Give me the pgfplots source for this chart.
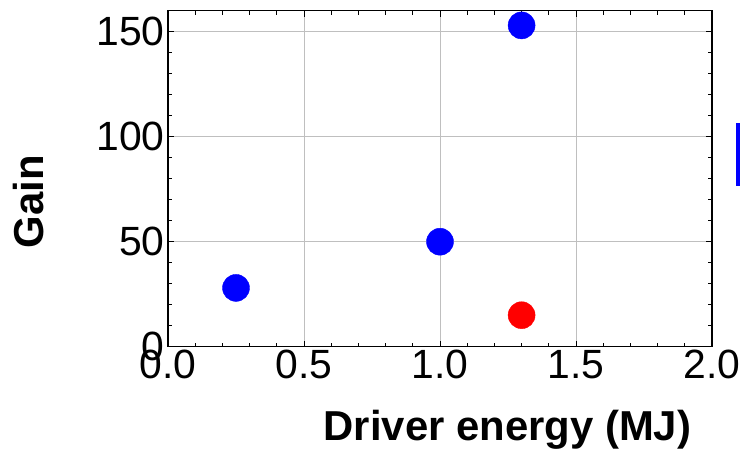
\documentclass[border=0pt]{standalone}
\usepackage{pgfplots}
\pgfplotsset{compat=1.18}
\usetikzlibrary{calc}
\usepackage{fontspec}
\setmainfont{Liberation Sans}
\begin{document}
\begin{tikzpicture}
\begin{axis}[
  name=ax,
  scale only axis, width=544bp, height=336bp,
  xmin=0, xmax=2, ymin=0, ymax=160,
  xtick={0,0.5,1,1.5,2}, ytick={0,50,100,150},
  minor x tick num=4, minor y tick num=4,
  xticklabel style={/pgf/number format/.cd, fixed, fixed zerofill, precision=1},
  /pgf/number format/assume math mode=true,
  ticklabel style={font=\fontsize{41}{41}\selectfont},
  grid=major, major grid style={gray!50, line width=1pt},
  axis line style={line width=1.3pt},
  tick style={black, line width=1pt},
  major tick length=6bp, minor tick length=4bp,
  tick align=inside,
  xlabel={Driver energy (MJ)}, ylabel={Gain},
  label style={font=\fontsize{42}{42}\selectfont\bfseries},
  xlabel style={at={(ticklabel cs:0.624)}},
  ylabel style={at={(ticklabel cs:0.432)}},
  xlabel shift=24bp, ylabel shift=46bp,
]
\addplot[only marks, mark=*, mark size=13.5bp, blue] coordinates {(0.25,28)(1.0,50)(1.3,153)};
\addplot[only marks, mark=*, mark size=13.5bp, red] coordinates {(1.3,15)};
\end{axis}
\draw[blue, line width=4bp] ($(ax.south east)+(26bp,161bp)$) -- ($(ax.south east)+(26bp,224bp)$);
\pgfresetboundingbox
\path ($(ax.south west)+(-168bp,-108.3bp)$) rectangle ($(ax.north east)+(30bp,10.7bp)$);
\end{tikzpicture}
\end{document}
